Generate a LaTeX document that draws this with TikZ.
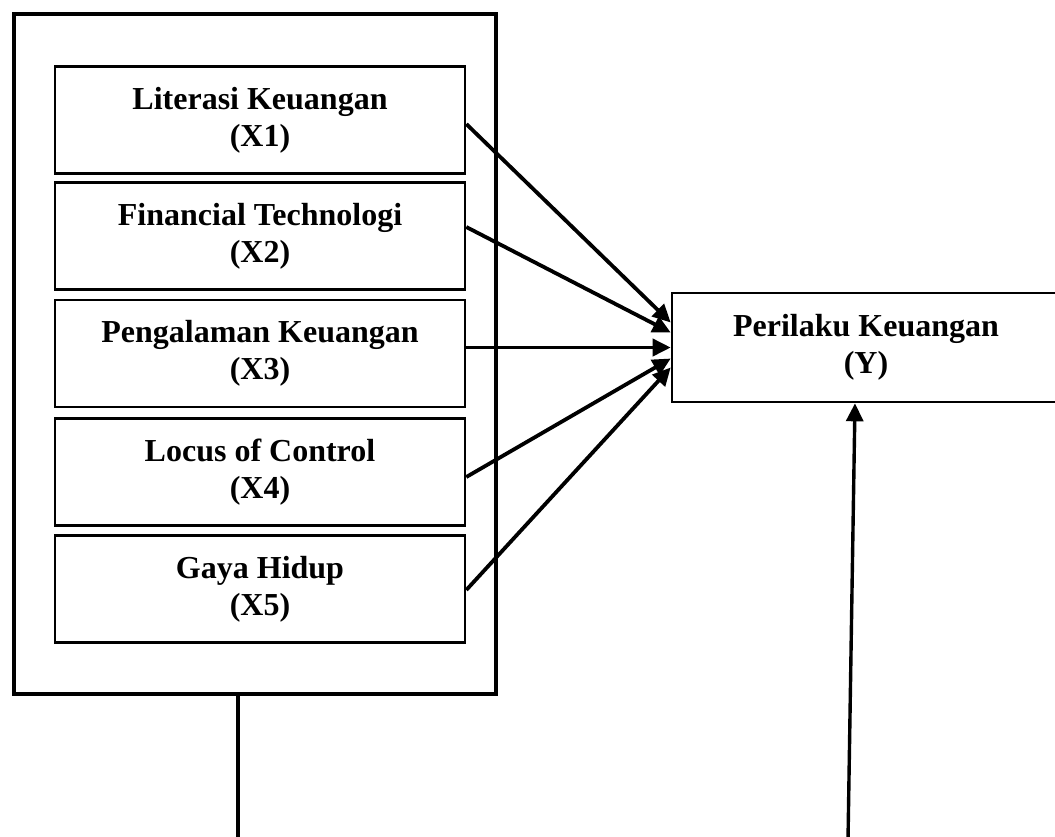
\documentclass[tikz,border=0pt]{standalone}
\usepackage{fontspec}
\setmainfont{Liberation Serif}
\usetikzlibrary{arrows.meta,calc}

\tikzset{
  var/.style={draw, line width=1.3pt, minimum width=205pt, minimum height=53.5pt,
    inner sep=0pt, align=center, font=\bfseries\fontsize{16}{18.5}\selectfont},
  grp/.style={draw, line width=2pt, minimum width=241pt, minimum height=340pt}
}

\begin{document}
\begin{tikzpicture}[x=0.5pt, y=-0.5pt, >={Triangle[length=9pt,width=8.5pt]}]
  \useasboundingbox (0,0) rectangle (1055,836);
  \node [grp] (grp) at (255,354) {};
  \node [var] (x1) at (260,120) {Literasi Keuangan\\(X1)};
  \node [var] (x2) at (260,236) {Financial Technologi\\(X2)};
  \node [var] (x3) at (260,353.5) {Pengalaman Keuangan\\(X3)};
  \node [var] (x4) at (260,472) {Locus of Control\\(X4)};
  \node [var] (x5) at (260,589) {Gaya Hidup\\(X5)};
  \node [var, minimum width=194pt, minimum height=54.5pt] (y) at (866,347.5) {Perilaku Keuangan\\(Y)};
  \begin{scope}[line width=1.9pt]
    \draw [->] ($(x1.east)+(0,4)$) -- ($(y.west)+(0,-25)$);
    \draw [->] ($(x2.east)+(0,-9)$) -- ($(y.west)+(0,-15)$);
    \draw [->] ($(x3.east)+(0,-6)$) -- (y.west);
    \draw [->] ($(x4.east)+(0,5)$) -- ($(y.west)+(0,11)$);
    \draw [->] ($(x5.east)+(0,1)$) -- ($(y.west)+(0,20)$);
  \end{scope}
  \coordinate (down) at (238,840);
  \coordinate (up) at (848,840);
  \draw [line width=1.8pt] (down |- grp.south) -- (down);
  \draw [->, line width=1.7pt] (up) -- ($(y.south)+(-11,0)$);
\end{tikzpicture}
\end{document}
